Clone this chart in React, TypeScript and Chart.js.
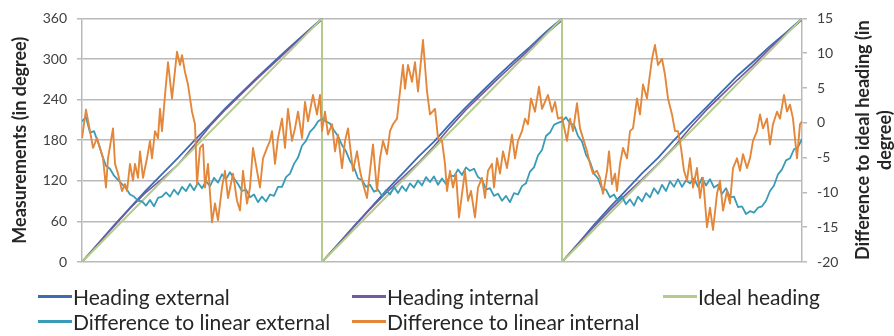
import { useEffect, useRef } from "react";
import { Chart, registerables } from "chart.js";

Chart.register(...registerables);

const SERIES_LABELS = [
  "Heading external",
  "Heading internal",
  "Ideal heading",
  "Difference to linear external",
  "Difference to linear internal",
];
const SERIES_COLORS = ["#3D6CAF", "#7559A0", "#B3CC8C", "#3A9BB8", "#E3873A"];

const LEFT_TITLE = "Measurements (in degree)";
const RIGHT_TITLE = ["Difference to ideal heading (in", "degree)"];

// sample index (x) for the heading series, 3 rotations of 120 samples
const HEADING_SAMPLES = [
  0, 8, 16, 24, 32, 40, 48, 56, 64, 72, 80, 88, 96, 104, 112, 120,
  120, 128, 136, 144, 152, 160, 168, 176, 184, 192, 200, 208, 216, 224, 232, 240,
  240, 248, 256, 264, 272, 280, 288, 296, 304, 312, 320, 328, 336, 344, 352, 360,
];
const HEADING_EXTERNAL = [
  0, 27, 54, 80, 106, 130, 154, 179, 203, 228, 251, 274, 296, 318, 339, 360,
  0, 26, 53, 79, 105, 130, 155, 178, 204, 229, 252, 275, 297, 318, 340, 360,
  0, 27, 55, 81, 106, 131, 154, 180, 204, 228, 252, 276, 297, 319, 339, 360,
];
const HEADING_INTERNAL = [
  0, 27, 53, 79, 103, 123, 144, 172, 201, 226, 249, 272, 294, 316, 338, 358,
  0, 26, 52, 78, 102, 124, 146, 171, 199, 225, 248, 271, 293, 315, 337, 357,
  0, 27, 52, 77, 100, 122, 145, 170, 198, 224, 247, 270, 292, 316, 337, 358,
];
const IDEAL_SAMPLES = [0, 120, 120, 240, 240, 360];
const IDEAL_HEADING = [0, 360, 0, 360, 0, 360];

// difference to linear external: one value every 2 samples (0..360)
const EXTERNAL_SAMPLES = Array.from({ length: 181 }, (_, i) => i * 2);
const DIFF_EXTERNAL = [
  0.2, 0.8, -1.4, -1.2, -2.8, -4.6, -6.2, -6.6, -7.6, -8.2, -8.8, -9.4, -10.3, -10.6, -11.2,
  -11.3, -11.9, -11.1, -12.0, -10.8, -10.6, -10.0, -10.6, -9.6, -10.3, -9.2, -9.8, -8.8, -9.7,
  -8.6, -9.4, -8.4, -9.1, -7.9, -8.6, -7.4, -8.1, -7.1, -8.0, -8.8, -9.8, -9.6, -10.7, -10.3,
  -11.4, -10.6, -11.3, -10.3, -10.5, -9.2, -9.2, -7.8, -7.3, -5.9, -5.0, -3.3, -2.6, -1.3, -0.7,
  0.2, 0.6,
  0.2, -0.1, -1.1, -1.9, -3.2, -4.1, -5.5, -6.4, -8.0, -8.2, -9.2, -8.9, -9.9, -9.6, -10.5,
  -9.7, -10.3, -9.2, -10.1, -9.1, -9.8, -8.7, -9.3, -8.3, -9.0, -7.8, -8.5, -7.7, -8.9, -8.0,
  -8.8, -7.5, -7.7, -6.7, -7.5, -6.4, -6.9, -6.6, -7.8, -8.2, -9.6, -9.4, -10.5, -10.2, -11.2,
  -10.5, -11.4, -10.1, -10.3, -9.1, -8.7, -7.0, -6.4, -4.7, -3.9, -1.9, -1.4, -0.3, 0.0, 0.2,
  0.8, -0.1, -0.3, -1.9, -2.7, -4.6, -5.6, -7.3, -8.0, -9.5, -9.6, -10.7, -10.3, -11.3, -10.6,
  -11.7, -11.0, -11.9, -10.6, -11.3, -10.1, -10.7, -9.4, -10.2, -8.9, -9.8, -8.4, -9.2, -8.1,
  -9.2, -8.3, -8.7, -8.0, -9.2, -7.9, -9.0, -8.1, -9.3, -8.9, -10.2, -9.4, -10.7, -10.6, -12.1,
  -12.0, -13.1, -12.7, -12.9, -12.2, -12.0, -11.2, -9.8, -9.0, -7.4, -6.7, -5.4, -5.1, -3.8,
  -3.5, -2.3,
];

// difference to linear internal: samples
const INTERNAL_SAMPLES = [
  0, 2, 4, 5.5, 7.5, 9, 10.5, 12, 13, 15.5, 16.5, 18, 20, 21.5, 22.5, 24, 25.5, 26.5, 28, 29,
  30.5, 32.5, 34, 35, 36.5, 38, 39, 40, 41.5, 43, 45, 47.5, 49, 50, 51.5, 53, 55, 56.5, 57.5, 59,
  60.5, 61.5, 63, 65, 66.5, 68, 70, 71.5, 73, 75.5, 77.5, 79, 80.5, 82.5, 84, 85.5, 87.5, 89, 90.5,
  92.5, 94, 95, 96.5, 98, 100, 101.5, 103, 105, 106.5, 108, 110, 111.5, 113, 115.5, 117.5, 119,
  120, 121.5, 123, 125, 126.5, 128, 130, 131.5, 133, 135.5, 137.5, 139, 140.5, 142.5, 144, 145.5,
  147.5, 149, 150.5, 152.5, 154, 155.5, 157.5, 159, 160.5, 161.5, 163, 165, 166.5, 168, 170.5,
  172.5, 174, 176.5, 178, 180, 181.5, 182.5, 184, 185.5, 187, 188.5, 190, 191.5, 193, 194.5, 196.5,
  198, 200, 201.5, 203, 205, 206, 207.5, 209, 210.5, 212.5, 215, 216.5, 218, 220, 221.5, 223, 224.5,
  226.5, 228.5, 230, 231.5, 233, 235, 236.5, 238,
  240, 242.5, 244, 245.5, 247.5, 249, 250.5, 252.5, 254, 255.5, 257.5, 259, 260.5, 262.5, 263.5,
  265, 266.5, 267.5, 269, 270.5, 272.5, 274, 275.5, 277.5, 279, 280.5, 282.5, 283.5, 285, 286.5,
  288, 290, 291.5, 293, 295, 296.5, 298, 299.5, 301, 302.5, 304, 305.5, 307.5, 309, 310.5, 312.5,
  314, 315.5, 317.5, 319, 320.5, 322.5, 324, 325.5, 327.5, 329, 330.5, 332.5, 334, 335.5, 337.5,
  339, 340.5, 342.5, 344, 345.5, 347.5, 349, 351, 352.5, 354, 355.5, 357.5, 359, 360,
];
const DIFF_INTERNAL = [
  -2.2, 1.9, -1.2, -3.6, -2.2, -3.6, -5.1, -9.3, -5.1, -0.8, -5.9, -7.3, -9.8, -8.8, -9.8, -5.9,
  -8.3, -5.9, -7.9, -4.1, -7.9, -5.1, -2.6, -5.1, -1.2, -2.2, 2.0, -1.2, 4.0, 8.7, 3.5, 10.2, 8.3,
  9.7, 7.3, 5.5, 1.6, -0.2, -8.8, -3.6, -3.1, -9.3, -5.9, -14.3, -11.6, -14.0, -9.3, -6.9, -10.8,
  -7.3, -11.2, -12.6, -6.9, -11.6, -9.3, -3.6, -6.9, -9.3, -5.1, -3.6, -2.6, -1.2, -5.9, -2.2, 0.6,
  -3.6, 2.0, -2.6, -0.8, 1.6, -2.2, 3.0, 0.2, 4.0, 1.2, 4.0,
  -1.2, 1.6, -1.7, -0.2, -4.1, -1.7, -6.5, -2.6, -0.8, -6.9, -4.1, -6.9, -8.8, -10.8, -6.9, -3.1,
  -9.8, -5.1, -2.6, -4.5, -1.2, -0.2, 0.6, 4.5, 8.3, 4.9, 8.3, 5.9, 8.7, 4.5, 11.9, 4.5, 1.2, 2.0,
  -2.2, -2.6, -5.9, -9.8, -6.9, -9.3, -7.3, -13.6, -10.2, -6.9, -11.2, -9.8, -13.6, -9.3, -7.9,
  -10.8, -6.9, -5.9, -9.3, -5.1, -7.3, -4.1, -6.5, -1.7, -5.1, -2.6, -1.2, 0.6, -0.2, 3.5, 1.6, 5.2,
  2.0, 3.0, 4.0, 1.6, 3.0, 0.6,
  0.8, -2.6, 0.6, -1.2, 2.8, -0.8, -2.2, -4.1, -5.9, -7.3, -6.9, -7.9, -10.2, -6.9, -4.1, -8.8,
  -7.3, -9.8, -5.9, -3.6, -5.1, -1.2, -0.8, 3.5, 1.2, 5.5, 3.5, 5.9, 9.2, 11.2, 8.3, 9.2, 6.9, 3.5,
  1.2, -1.2, -1.2, -3.6, -6.9, -8.3, -5.1, -9.3, -6.5, -10.8, -7.9, -15.0, -12.2, -15.4, -10.2,
  -8.3, -12.6, -9.8, -11.6, -6.5, -5.1, -6.9, -4.5, -6.5, -5.1, -2.6, -1.2, 1.2, -0.8, 0.6, -3.1,
  -0.2, 1.6, 0.6, 4.0, 1.6, 2.6, 0.6, -5.1, -0.2, 0.2,
];

const LEFT_TICKS = { min: 0, max: 360, step: 60 };
const RIGHT_TICKS = { min: -20, max: 15, step: 5 };

const pts = (xs: number[], ys: number[]) => xs.map((x, i) => ({ x, y: ys[i] }));

const GRID = "#b9b9b9";
const TEXT = "#404040";

const axisTitles = {
  id: "axisTitles",
  afterDraw(chart: any) {
    const { ctx, chartArea } = chart;
    const cy = (chartArea.top + chartArea.bottom) / 2;
    ctx.save();
    ctx.fillStyle = "#262626";
    ctx.font = "bold 18px Lato";
    ctx.textAlign = "center";
    ctx.textBaseline = "middle";
    const draw = (t: string, x: number) => {
      ctx.save();
      ctx.translate(x, cy);
      ctx.rotate(-Math.PI / 2);
      ctx.fillText(t, 0, 0);
      ctx.restore();
    };
    draw(LEFT_TITLE, 20);
    draw(RIGHT_TITLE[0], 863);
    draw(RIGHT_TITLE[1], 885);
    ctx.restore();
  },
};

const LEGEND_COLS = [38, 352, 663];
const LEGEND_ROWS = [296, 321];

export default function App() {
  const ref = useRef<HTMLCanvasElement>(null);
  useEffect(() => {
    const line = (i: number, data: any[], axis: string, width: number, order: number) => ({
      label: SERIES_LABELS[i],
      data,
      yAxisID: axis,
      borderColor: SERIES_COLORS[i],
      backgroundColor: SERIES_COLORS[i],
      borderWidth: width,
      pointRadius: 0,
      tension: 0,
      fill: false,
      borderJoinStyle: "round" as const,
      order,
    });
    const chart = new Chart(ref.current!, {
      type: "line",
      data: {
        datasets: [
          line(0, pts(HEADING_SAMPLES, HEADING_EXTERNAL), "y", 1.8, 5),
          line(1, pts(HEADING_SAMPLES, HEADING_INTERNAL), "y", 1.6, 4),
          line(2, pts(IDEAL_SAMPLES, IDEAL_HEADING), "y", 2, 3),
          line(3, pts(EXTERNAL_SAMPLES, DIFF_EXTERNAL), "y2", 1.8, 2),
          line(4, pts(INTERNAL_SAMPLES, DIFF_INTERNAL), "y2", 1.9, 1),
        ],
      },
      options: {
        responsive: false,
        animation: false,
        events: [],
        layout: { padding: { left: 0, right: 0, top: 16, bottom: 74 } },
        plugins: { legend: { display: false }, tooltip: { enabled: false } },
        scales: {
          x: { type: "linear", min: 0, max: 360, display: false },
          y: {
            position: "left",
            min: LEFT_TICKS.min,
            max: LEFT_TICKS.max,
            afterFit: (s: any) => { s.width = 82; },
            ticks: { stepSize: LEFT_TICKS.step, color: TEXT, font: { family: "Lato", size: 14 }, padding: 10 },
            grid: { color: GRID, lineWidth: 1.5, tickLength: 5 },
            border: { display: true, color: GRID, width: 1.5 },
          },
          y2: {
            position: "right",
            min: RIGHT_TICKS.min,
            max: RIGHT_TICKS.max,
            afterFit: (s: any) => { s.width = 92; },
            ticks: { stepSize: RIGHT_TICKS.step, color: TEXT, font: { family: "Lato", size: 14 }, padding: 10 },
            grid: { drawOnChartArea: false, color: GRID, lineWidth: 1.5, tickLength: 5 },
            border: { display: true, color: GRID, width: 1.5 },
          },
        },
      },
      plugins: [axisTitles],
    });
    return () => chart.destroy();
  }, []);

  return (
    <div style={{ position: "absolute", left: 0, top: 0, width: 894, height: 336, background: "#fff" }}>
      <canvas ref={ref} width={894} height={336} style={{ display: "block" }} />
      {SERIES_LABELS.map((label, i) => (
        <div
          key={label}
          style={{
            position: "absolute",
            left: LEGEND_COLS[i % 3],
            top: LEGEND_ROWS[Math.floor(i / 3)] - 12,
            height: 24,
            display: "flex",
            alignItems: "center",
            fontFamily: "Lato",
            fontSize: 21,
            color: "#262626",
            whiteSpace: "nowrap",
          }}
        >
          <span style={{ display: "inline-block", width: 34, height: 3, background: SERIES_COLORS[i], marginRight: 1 }} />
          <span>{label}</span>
        </div>
      ))}
    </div>
  );
}
